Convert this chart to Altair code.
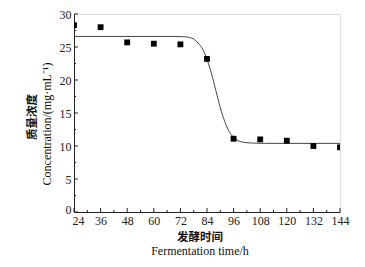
import altair as alt
import pandas as pd

# measured points
time_h = [24, 36, 48, 60, 72, 84, 96, 108, 120, 132, 144]
conc = [28.3, 28.0, 25.7, 25.5, 25.4, 23.2, 11.1, 11.0, 10.8, 10.0, 9.8]

# fitted curve
fit_x = [24, 70, 74, 76, 78, 80, 82, 84, 86, 88, 90, 92, 94, 96, 98, 100, 104, 110, 144]
fit_y = [26.6, 26.6, 26.55, 26.45, 26.2, 25.6, 24.7, 23.1, 21.0, 18.4, 15.8, 13.7, 12.2, 11.3, 10.8, 10.6, 10.45, 10.4, 10.4]

x_major = [24, 36, 48, 60, 72, 84, 96, 108, 120, 132, 144]
x_minor = [30, 42, 54, 66, 78, 90, 102, 114, 126, 138]
y_major = [0, 5, 10, 15, 20, 25, 30]
y_minor = [2.5, 7.5, 12.5, 17.5, 22.5, 27.5]

W, H = 266, 198
SERIF = "Liberation Serif"
CJK = "Noto Sans CJK SC"

xs = alt.Scale(domain=[24, 144], nice=False, zero=False)
ys = alt.Scale(domain=[0, 30], nice=False)

x_axis = alt.Axis(values=x_major, tickSize=0, labelPadding=3, labelFont=SERIF,
                  labelFontSize=12, labelColor="#222", domainColor="#222", title=None,
                  grid=False, labelFlush=False, labelOverlap=False,
                  labelOffset={"condition": {"test": "datum.value == 24", "value": 4}, "value": 0})
y_axis = alt.Axis(values=y_major, tickSize=0, labelPadding=3, labelFont=SERIF,
                  labelFontSize=12, labelColor="#222", domainColor="#222", title=None,
                  grid=False, labelOverlap=False,
                  labelOffset={"condition": {"test": "datum.value == 0", "value": -3}, "value": 0})

df_pts = pd.DataFrame({"t": time_h, "c": conc})
df_fit = pd.DataFrame({"t": fit_x, "c": fit_y})

line = alt.Chart(df_fit).mark_line(color="#444", strokeWidth=1, interpolate="monotone").encode(
    x=alt.X("t:Q", scale=xs, axis=x_axis),
    y=alt.Y("c:Q", scale=ys, axis=y_axis),
)
pts = alt.Chart(df_pts).mark_square(color="black", size=34, opacity=1, clip=True).encode(
    x=alt.X("t:Q", scale=xs, axis=x_axis),
    y=alt.Y("c:Q", scale=ys, axis=y_axis),
)

def xticks(vals, size):
    return alt.Chart(pd.DataFrame({"v": vals})).mark_rule(color="#222", strokeWidth=1).encode(
        x=alt.X("v:Q", scale=xs, axis=x_axis), y=alt.value(H), y2=alt.value(H - size))

def yticks(vals, size):
    return alt.Chart(pd.DataFrame({"v": vals})).mark_rule(color="#222", strokeWidth=1).encode(
        y=alt.Y("v:Q", scale=ys, axis=y_axis), x=alt.value(0), x2=alt.value(size))

def label(txt, x, y, font, size, weight="normal", angle=0):
    return alt.Chart(pd.DataFrame({"s": [txt]})).mark_text(
        font=font, fontSize=size, fontWeight=weight, angle=angle, color="#111",
        align="center", baseline="middle").encode(
        text="s:N", x=alt.value(x), y=alt.value(y))

chart = alt.layer(
    line, pts,
    xticks(x_major, 4), xticks(x_minor, 2),
    yticks(y_major, 4), yticks(y_minor, 2),
    label("发酵时间", 126, 224, CJK, 11.5, "bold"),
    label("Fermentation time/h", 126, 237, SERIF, 12),
    label("质量浓度", -41, 103, CJK, 11.5, "bold", 270),
    label("Concentration/(mg·mL⁻¹)", -27, 110, SERIF, 12, "normal", 270),
).properties(
    width=W, height=H,
    padding={"left": 66, "top": 6, "right": 17, "bottom": 47},
    autosize=alt.AutoSizeParams(type="none"),
).configure_view(stroke=None).configure_axis(labelOverlap=False).configure(background="white")

chart.save("out.html", embed_options={"renderer": "svg", "actions": False})
